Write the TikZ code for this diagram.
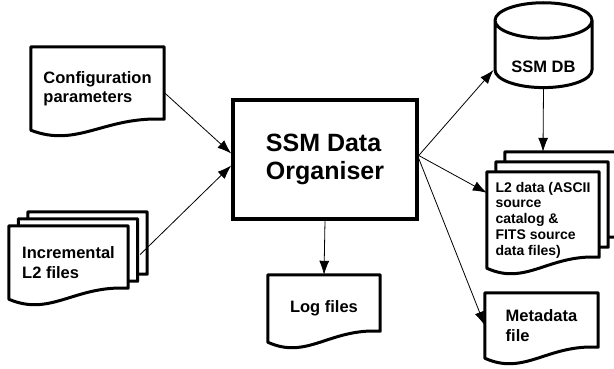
\documentclass[tikz,border=0pt]{standalone}
\usepackage{fontspec}
\setmainfont{Liberation Sans}
\usetikzlibrary{shapes.geometric,arrows.meta,calc,backgrounds}

% document outline round a named node, #1 shifts it
\newcommand{\docframe}[2][0pt,0pt]{%
  \draw[docline] ($(#2.south west)+(#1)$) -- ($(#2.north west)+(#1)$)
    -- ($(#2.north east)+(#1)$) -- ($(#2.south east)+(0pt,11pt)+(#1)$)
    .. controls ($(#2.south west)!0.55!(#2.south east)+(0pt,14pt)+(#1)$)
    and ($(#2.south west)!0.35!(#2.south east)+(0pt,-18pt)+(#1)$)
    .. ($(#2.south west)+(#1)$) -- cycle;}

\begin{document}
\begin{tikzpicture}[x=1pt,y=-1pt,
    docline/.style={line width=3pt,fill=white,line join=round},
    doc/.style={align=left,inner sep=0pt,font=\fontsize{16.5}{19.5}\selectfont\bfseries},
    link/.style={line width=0.8pt,-{Latex[length=14pt,width=10pt]}}]
  \useasboundingbox (0,0) rectangle (614,369);
  \node[doc,minimum width=133pt,minimum height=83pt] (conf) at (97.5,88.5) {Configuration\\parameters};
  \node[doc,minimum width=119pt,minimum height=73pt] (inc) at (68.5,262.5) {Incremental\\L2 files};
  \node[draw,line width=3.5pt,align=left,minimum width=184pt,minimum height=119pt,
    font=\fontsize{25}{28}\selectfont\bfseries] (org) at (325,159.5) {SSM Data\\Organiser};
  \node[doc,minimum width=112pt,minimum height=67pt] (log) at (324,308.5) {Log files};
  \node[draw,cylinder,shape border rotate=90,aspect=0.5,line width=3pt,text height=30pt,text depth=0pt,
    minimum width=97pt,minimum height=79pt,font=\fontsize{16.5}{19.5}\selectfont\bfseries] (db) at (543.5,58) {SSM DB};
  \node[doc,minimum width=112pt,minimum height=96pt,font=\fontsize{14}{15.7}\selectfont\bfseries] (l2) at (543,220)
    {L2 data (ASCII\\source\\catalog \&\\FITS source\\data files)};
  \node[doc,minimum width=113pt,minimum height=65pt] (meta) at (541.5,325.5) {Metadata\\file};
  \begin{scope}[on background layer]
    \docframe{conf}
    \docframe[19pt,14pt]{inc}
    \docframe[9.5pt,7pt]{inc}
    \docframe{inc}
    \docframe[18pt,20pt]{l2}
    \docframe[9pt,10pt]{l2}
    \docframe{l2}
    \docframe{log}
    \docframe{meta}
  \end{scope}
  \draw[link] ([yshift=-4pt]conf.east) -- ([yshift=6pt]org.west);
  \draw[link] ($(inc.east)+(12pt,8pt)$) -- ([yshift=-6pt]org.west);
  \draw[link] ([yshift=4pt]org.east) -- ([yshift=-12pt]db.west);
  \draw[link] ([yshift=4pt]org.east) -- ([yshift=-21pt]l2.north west);
  \draw[link] ([yshift=1pt]org.east) -- (meta.west);
  \draw[link] (db.south) -- ([yshift=20pt]l2.north);
  \draw[link] (org.south) -- (log.north);
\end{tikzpicture}
\end{document}
